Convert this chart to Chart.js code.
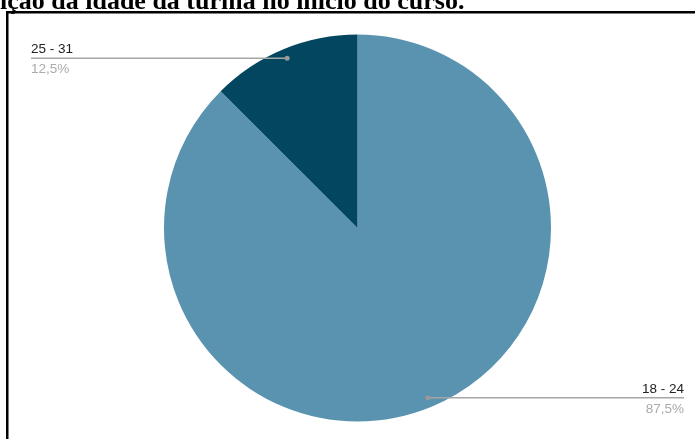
<!DOCTYPE html>
<html>
<head>
<meta charset="utf-8">
<script src="https://cdn.jsdelivr.net/npm/chart.js@4.4.0/dist/chart.umd.min.js"></script>
<style>
  html, body { margin: 0; padding: 0; background: #fff; }
  #wrap { position: absolute; left: 0; top: 0; width: 695px; height: 439px; }
</style>
</head>
<body>
<div id="wrap"><canvas id="chart" width="695" height="439"></canvas></div>
<script>
// chart data
const titleText = "ição da idade da turma no início do curso."
const categories = ["18 - 24", "25 - 31"]
const percentages = [87.5, 12.5]
const percentLabels = ["87,5%", "12,5%"]
const sliceColors = ["#5a93b0", "#03465f"]

// title + frame + leader labels, drawn on top of the pie
const decorPlugin = {
  id: "decor",
  afterDraw(chart) {
    const ctx = chart.ctx
    ctx.save()
    // cut-off title at the top
    ctx.fillStyle = "#000"
    ctx.font = "bold 26px 'Liberation Serif', 'Times New Roman', serif"
    ctx.textBaseline = "alphabetic"
    ctx.textAlign = "left"
    ctx.fillText(titleText, 0, 8.5)
    // frame
    ctx.fillRect(6, 11, 689, 2.5)
    ctx.fillRect(6, 11, 2.5, 428)

    const meta = chart.getDatasetMeta(0)
    meta.data.forEach(function(arc, i) {
      const p = arc.getProps(["x", "y", "startAngle", "endAngle", "outerRadius"], true)
      const mid = (p.startAngle + p.endAngle) / 2
      const dx = p.x + Math.cos(mid) * p.outerRadius * 0.95
      const dy = p.y + Math.sin(mid) * p.outerRadius * 0.95
      const left = Math.cos(mid) < 0
      const endX = left ? 31 : 684
      ctx.strokeStyle = "#a6a6a6"
      ctx.lineWidth = 1.5
      ctx.beginPath()
      ctx.moveTo(dx, dy)
      ctx.lineTo(endX, dy)
      ctx.stroke()
      ctx.fillStyle = "#999"
      ctx.beginPath()
      ctx.arc(dx, dy, 2.5, 0, Math.PI * 2)
      ctx.fill()
      ctx.textAlign = left ? "left" : "right"
      ctx.font = "13.5px 'Liberation Sans', Arial, sans-serif"
      ctx.fillStyle = "#222"
      ctx.fillText(chart.data.labels[i], endX, dy - 5)
      ctx.fillStyle = "#aaa"
      ctx.fillText(percentLabels[i], endX, dy + 15)
    })
    ctx.restore()
  }
}

new Chart(document.getElementById("chart"), {
  type: "pie",
  data: {
    labels: categories,
    datasets: [{
      data: percentages,
      backgroundColor: sliceColors,
      borderWidth: 0
    }]
  },
  options: {
    responsive: false,
    animation: false,
    layout: { padding: { left: 150, right: 130, top: 34.5, bottom: 17.5 } },
    plugins: {
      legend: { display: false },
      tooltip: { enabled: false }
    }
  },
  plugins: [decorPlugin]
})
</script>
</body>
</html>
